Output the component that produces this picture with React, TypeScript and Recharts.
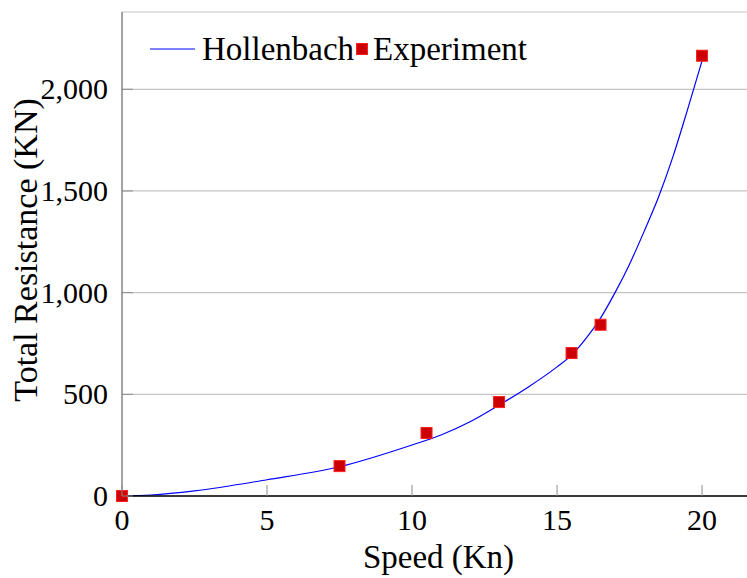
import React from "react";
import {
  ComposedChart,
  Line,
  Scatter,
  XAxis,
  YAxis,
  CartesianGrid,
} from "recharts";

// Hollenbach prediction
const hollenbachSpeed = [0, 1, 2.5, 5, 7.5, 10, 11, 12, 13, 14, 15, 15.5, 16, 16.5, 17, 17.5, 18, 18.5, 19, 19.5, 20];
const hollenbachResistance = [0, 5, 25, 80, 144, 251, 300, 365, 447, 535, 635, 693, 775, 875, 1000, 1140, 1300, 1470, 1670, 1900, 2140];

// experiment points
const experimentSpeed = [0, 7.5, 10.5, 13, 15.5, 16.5, 20];
const experimentResistance = [0, 147, 310, 462, 703, 842, 2165];

const xTicks = [0, 5, 10, 15, 20];
const yTicks = [0, 500, 1000, 1500, 2000];

const hollenbach = hollenbachSpeed.map((x, i) => ({ x, y: hollenbachResistance[i] }));
const experiment = experimentSpeed.map((x, i) => ({ x, y: experimentResistance[i] }));

const FONT = "Liberation Serif";
const TICK_GRAY = "#8c8c8c";
const BLUE = "#0000ff";
const RED_FILL = "#cc0000";
const RED_EDGE = "#ff2020";

const fmt = (v: number) => v.toLocaleString("en-US");

function BottomTick({ x, y, payload }: any) {
  return (
    <g>
      <line x1={x} x2={x} y1={y} y2={y - 11} stroke={TICK_GRAY} strokeWidth={1} />
      <text x={x} y={y + 34} textAnchor="middle" fontFamily={FONT} fontSize={30} fill="#000">
        {payload.value}
      </text>
    </g>
  );
}

function TopTick({ x, y }: any) {
  return <line x1={x} x2={x} y1={y} y2={y + 11} stroke={TICK_GRAY} strokeWidth={1} />;
}

function LeftTick({ x, y, payload }: any) {
  return (
    <g>
      <line x1={x} x2={x + 11} y1={y} y2={y} stroke={TICK_GRAY} strokeWidth={1} />
      <text x={x - 14} y={y + 10} textAnchor="end" fontFamily={FONT} fontSize={30} fill="#000">
        {fmt(payload.value)}
      </text>
    </g>
  );
}

function Square({ cx, cy }: any) {
  if (cx == null || cy == null) return null;
  return <rect x={cx - 5.5} y={cy - 5.5} width={11} height={11} fill={RED_FILL} stroke={RED_EDGE} strokeWidth={1} />;
}

function LegendBox() {
  return (
    <svg width={420} height={44} style={{ position: "absolute", left: 140, top: 30 }}>
      <line x1={10} x2={55} y1={19} y2={19} stroke={BLUE} strokeWidth={1.2} />
      <text x={62} y={30} fontFamily={FONT} fontSize={33} fill="#000">
        Hollenbach
      </text>
      <rect x={216.5} y={13.5} width={11} height={11} fill={RED_FILL} stroke={RED_EDGE} strokeWidth={1} />
      <text x={233} y={30} fontFamily={FONT} fontSize={33} fill="#000">
        Experiment
      </text>
    </svg>
  );
}

const css = `#root text { font-family: "Liberation Serif" !important; }`;

export default function App() {
  return (
    <div style={{ position: "absolute", left: 0, top: 0, width: 747, height: 578, background: "#fff", fontFamily: FONT }}>
      <style>{css}</style>
      <ComposedChart width={747} height={578} margin={{ top: 12, right: 0, bottom: 0, left: 0 }}>
        <CartesianGrid horizontal vertical={false} stroke="#c4c4c4" strokeWidth={1.2} />
        <XAxis
          xAxisId="top"
          orientation="top"
          type="number"
          dataKey="x"
          domain={[0, 21.55]}
          ticks={xTicks}
          height={0}
          tickSize={0}
          tickMargin={0}
          axisLine={{ stroke: "#8c8c8c", strokeWidth: 1.2 }}
          tickLine={false}
          tick={<TopTick />}
        />
        <XAxis
          type="number"
          dataKey="x"
          domain={[0, 21.55]}
          ticks={xTicks}
          height={82}
          tickSize={0}
          tickMargin={0}
          axisLine={{ stroke: "#000", strokeWidth: 1.4 }}
          tickLine={false}
          tick={<BottomTick />}
          label={({ viewBox }: any) => (
            <text
              x={viewBox.x + viewBox.width / 2 + 4}
              y={viewBox.y + 72}
              textAnchor="middle"
              fontFamily={FONT}
              fontSize={33}
              fill="#000"
            >
              Speed (Kn)
            </text>
          )}
        />
        <YAxis
          type="number"
          dataKey="y"
          domain={[0, 2380]}
          ticks={yTicks}
          width={122}
          tickSize={0}
          tickMargin={0}
          axisLine={{ stroke: "#666", strokeWidth: 1.2 }}
          tickLine={false}
          tick={<LeftTick />}
          label={({ viewBox }: any) => {
            const cx = 37;
            const cy = viewBox.y + viewBox.height / 2 - 4;
            return (
              <text
                x={cx}
                y={cy}
                transform={`rotate(-90, ${cx}, ${cy})`}
                textAnchor="middle"
                fontFamily={FONT}
                fontSize={34}
                fill="#000"
              >
                Total Resistance (KN)
              </text>
            );
          }}
        />
        <Line
          name="Hollenbach"
          data={hollenbach}
          dataKey="y"
          type="monotone"
          stroke={BLUE}
          strokeWidth={1.2}
          dot={false}
          activeDot={false}
          isAnimationActive={false}
        />
        <Scatter
          name="Experiment"
          data={experiment}
          dataKey="y"
          shape={<Square />}
          isAnimationActive={false}
        />
      </ComposedChart>
      <LegendBox />
    </div>
  );
}
